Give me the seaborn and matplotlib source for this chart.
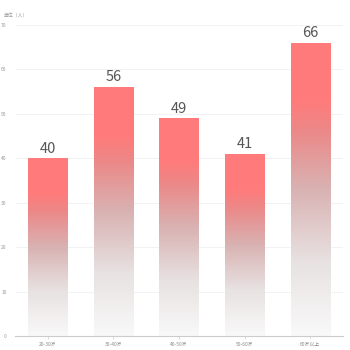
import numpy as np
import pandas as pd
import matplotlib
matplotlib.use("Agg")
import matplotlib.pyplot as plt
import seaborn as sns
from matplotlib.colors import LinearSegmentedColormap

categories = ["20-30岁", "30-40岁", "40-50岁", "50-60岁", "60岁以上"]
values = [40, 56, 49, 41, 66]
yticks = [0, 10, 20, 30, 40, 50, 60, 70]

sns.set_theme(style="white")
plt.rcParams['font.family'] = ['Noto Sans CJK SC', 'DejaVu Sans']

fig = plt.figure(figsize=(3.5, 3.5), dpi=100)
ax = fig.add_axes([0.043, 0.04, 0.937, 0.889])

df = pd.DataFrame({"cat": categories, "val": values})
sns.barplot(data=df, x="cat", y="val", ax=ax, width=0.6, color="white", edgecolor="none")

cmap = LinearSegmentedColormap.from_list(
    "g", [(0.0, "#f9f9f9"), (0.25, "#e8e2e2"), (0.5, "#d9b2b2"),
          (0.7, "#ec8888"), (0.8, "#ff7b7b"), (1.0, "#ff7b7b")])
grad = np.linspace(0, 1, 256).reshape(-1, 1)
for p, v in zip(ax.patches, values):
    x0, w = p.get_x(), p.get_width()
    im = ax.imshow(grad, aspect="auto", cmap=cmap, origin="lower",
                   extent=[x0, x0 + w, 0, v], zorder=2)
    im.set_clip_path(p)
    ax.text(x0 + w / 2, v + 0.6, str(v), ha="center", va="bottom",
            fontsize=10.5, color="#555555", zorder=3)

ax.set_xlim(-0.5, len(categories) - 0.5)
ax.set_ylim(0, 70)
ax.set_yticks(yticks)
ax.set_yticklabels([str(t) for t in yticks])
ax.grid(axis="y", color="#eef0f4", linewidth=0.6)
ax.set_axisbelow(True)
for s in ["top", "right", "left"]:
    ax.spines[s].set_visible(False)
ax.spines["bottom"].set_color("#cccccc")
ax.spines["bottom"].set_linewidth(0.8)
ax.tick_params(axis="y", length=0, labelsize=3.5, labelcolor="#999999", pad=6)
ax.tick_params(axis="x", length=2, width=0.5, color="#cccccc", labelsize=3.5,
               labelcolor="#888888", pad=2, bottom=True)
ax.set_xlabel("")
ax.set_ylabel("")
fig.text(0.012, 0.955, "单位（人）", fontsize=3.5, color="#999999", ha="left", va="center")

fig.savefig("out.png", dpi=100, facecolor="white")
